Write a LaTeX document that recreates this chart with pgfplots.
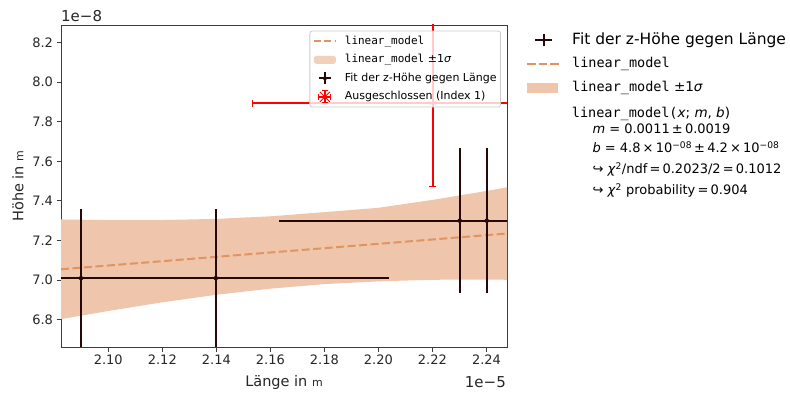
\documentclass[border=0pt]{standalone}
\usepackage{pgfplots}
\pgfplotsset{compat=1.18}
\usepackage{pgfplotstable}
\usepgfplotslibrary{fillbetween}
\usepackage{fontspec}
\setmainfont{DejaVu Sans}
\setmonofont{DejaVu Sans Mono}
\definecolor{bandc}{RGB}{239,198,172}
\definecolor{linec}{RGB}{225,147,98}
\definecolor{ptc}{RGB}{38,8,8}
\definecolor{spine}{RGB}{60,60,60}

\pgfplotstableread{
x y xe ye
2.0899 7.009 0.064 0.350
2.1398 7.009 0.064 0.350
2.2301 7.300 0.0668 0.366
2.2401 7.300 0.0668 0.366
}\pts
\pgfplotstableread{
x y xe ye
2.2201 7.893 0.0667 0.420
}\excl
\pgfplotstableread{
x upper lower
2.0825 7.306 6.802
2.10 7.303 6.843
2.12 7.303 6.887
2.14 7.309 6.925
2.16 7.322 6.956
2.18 7.343 6.979
2.20 7.365 6.993
2.22 7.405 7.001
2.24 7.450 7.002
2.2476 7.469 7.001
}\band
\pgfplotstableread{
x y
2.0825 7.054
2.2476 7.235
}\fitline

\begin{document}
\begin{tikzpicture}[x=1pt,y=1pt]
\begin{axis}[
  at={(61pt,47pt)}, anchor=south west, width=446pt, height=322pt, scale only axis,
  xmin=2.0825, xmax=2.2476, ymin=6.661, ymax=8.2896,
  xtick={2.10,2.12,2.14,2.16,2.18,2.20,2.22,2.24},
  ytick={6.8,7.0,7.2,7.4,7.6,7.8,8.0,8.2},
  xticklabel style={/pgf/number format/.cd, fixed, fixed zerofill, precision=2},
  yticklabel style={/pgf/number format/.cd, fixed, fixed zerofill, precision=1},
  /pgf/number format/assume math mode=true,
  scaled ticks=false,
  tick align=outside, xtick pos=bottom, ytick pos=left,
  major tick length=4.5pt,
  every tick/.style={spine, line width=0.9pt},
  axis line style={spine, line width=0.9pt},
  tick label style={font=\fontsize{13}{13}\selectfont, text=black!85},
  xlabel={Länge in {\fontsize{11}{11}\selectfont m}},
  ylabel={Höhe in {\fontsize{11}{11}\selectfont m}},
  label style={font=\fontsize{14.5}{14.5}\selectfont, text=black!85},
  xlabel style={at={(axis description cs:0.5,-0.1233)}, anchor=base},
  ylabel style={at={(axis description cs:-0.0964,0.5)}, anchor=center},
  legend cell align=left,
  legend style={at={(axis description cs:0.9865,0.9823)}, anchor=north east,
    draw=black!20, line width=0.8pt, fill=white, fill opacity=0.8, text opacity=1,
    rounded corners=2.5pt, inner xsep=4pt, inner ysep=5pt,
    font=\fontsize{11}{11}\selectfont, row sep=8pt,
    nodes={inner sep=0pt, anchor=west, text height=8pt, text depth=2.5pt}},
]
\addplot[draw=none, name path=U, forget plot] table[x=x,y=upper]{\band};
\addplot[draw=none, name path=L, forget plot] table[x=x,y=lower]{\band};
\addplot[bandc, forget plot] fill between[of=U and L];
\addplot[linec, line width=2pt, dash pattern=on 8pt off 3.5pt, forget plot] table[x=x,y=y]{\fitline};
\addplot[ptc, only marks, mark=*, mark size=2pt, forget plot,
  error bars/.cd, x dir=both, x explicit, y dir=both, y explicit, error mark=none,
  error bar style={line width=2pt, ptc}] table[x=x, y=y, x error=xe, y error=ye]{\pts};
\addplot[red, only marks, mark=asterisk, mark size=4pt, forget plot,
  error bars/.cd, x dir=both, x explicit, y dir=both, y explicit,
  error bar style={line width=2pt, red},
  error mark options={rotate=90, red, mark size=3.5pt, line width=1.2pt}]
  table[x=x, y=y, x error=xe, y error=ye]{\excl};

\addlegendimage{legend image code/.code={
  \path[draw=none, fill=none] (0pt,-4pt) rectangle (31pt,4pt);
  \begin{pgfinterruptboundingbox}
  \draw[linec, line width=2pt, dash pattern=on 7pt off 3.5pt] (0pt,0pt) -- (22pt,0pt);
  \end{pgfinterruptboundingbox}}}
\addlegendentry{\texttt{linear\_model}}
\addlegendimage{legend image code/.code={
  \path[draw=none, fill=none] (0pt,-4pt) rectangle (31pt,4pt);
  \begin{pgfinterruptboundingbox}
  \fill[bandc, draw=none] (0pt,-4pt) rectangle (22pt,4pt);
  \end{pgfinterruptboundingbox}}}
\addlegendentry{\texttt{linear\_model} ±1\textit{σ}}
\addlegendimage{legend image code/.code={
  \path[draw=none, fill=none] (0pt,-4pt) rectangle (31pt,4pt);
  \begin{pgfinterruptboundingbox}
  \draw[ptc, line width=2pt] (11pt,-6pt) -- (11pt,6pt);
  \draw[ptc, line width=2pt] (5pt,0pt) -- (17pt,0pt);
  \fill[ptc, draw=none] (11pt,0pt) circle (2pt);
  \end{pgfinterruptboundingbox}}}
\addlegendentry{Fit der z-Höhe gegen Länge}
\addlegendimage{legend image code/.code={
  \path[draw=none, fill=none] (0pt,-4pt) rectangle (31pt,4pt);
  \begin{pgfinterruptboundingbox}
  \draw[red, line width=1.5pt] (11pt,-6pt) -- (11pt,6pt) (5pt,0pt) -- (17pt,0pt);
  \draw[red, line width=1pt] (8pt,-6pt) -- (14pt,-6pt) (8pt,6pt) -- (14pt,6pt)
     (5pt,-3pt) -- (5pt,3pt) (17pt,-3pt) -- (17pt,3pt);
  \draw[red, line width=0.8pt] (6pt,-5pt) -- (16pt,5pt) (6pt,5pt) -- (16pt,-5pt);
  \end{pgfinterruptboundingbox}}}
\addlegendentry{Ausgeschlossen (Index 1)}
\end{axis}

\begin{axis}[
  at={(61pt,47pt)}, anchor=south west, width=446pt, height=322pt, scale only axis,
  hide axis, xmin=0, xmax=1, ymin=0, ymax=1,
  legend cell align=left,
  legend style={at={(axis description cs:1.04484,0.97516)}, anchor=north west,
    draw=none, fill=none, inner sep=0pt, row sep=9.7pt,
    nodes={inner sep=0pt, anchor=west, text height=11pt, text depth=3pt}},
]
\addplot[draw=none, forget plot] coordinates {(0,0) (1,1)};
\addlegendimage{legend image code/.code={
  \path[draw=none, fill=none] (0pt,-5pt) rectangle (45pt,5pt);
  \begin{pgfinterruptboundingbox}
  \draw[ptc, line width=2pt] (16.3pt,-5.7pt) -- (16.3pt,5.7pt);
  \draw[ptc, line width=2pt] (8pt,0pt) -- (24.6pt,0pt);
  \fill[ptc, draw=none] (16.3pt,0pt) circle (1.6pt);
  \end{pgfinterruptboundingbox}}}
\addlegendentry{\fontsize{15.5}{15.5}\selectfont Fit der z-Höhe gegen Länge}
\addlegendimage{legend image code/.code={
  \path[draw=none, fill=none] (0pt,-5pt) rectangle (45pt,5pt);
  \begin{pgfinterruptboundingbox}
  \draw[linec, line width=2pt, dash pattern=on 8.5pt off 3pt] (0pt,0pt) -- (31.5pt,0pt);
  \end{pgfinterruptboundingbox}}}
\addlegendentry{\fontsize{13.5}{13.5}\selectfont\texttt{linear\_model}}
\addlegendimage{legend image code/.code={
  \path[draw=none, fill=none] (0pt,-5pt) rectangle (45pt,5pt);
  \begin{pgfinterruptboundingbox}
  \fill[bandc, draw=none] (0pt,-5pt) rectangle (31pt,5pt);
  \end{pgfinterruptboundingbox}}}
\addlegendentry{\fontsize{13.5}{13.5}\selectfont\texttt{linear\_model} ±1\textit{σ}}
\end{axis}

\node[anchor=base west, inner sep=0pt, font=\fontsize{15}{15}\selectfont, text=black!85] at (61,372) {1e−8};
\node[anchor=base east, inner sep=0pt, font=\fontsize{15}{15}\selectfont, text=black!85] at (506,6.7) {1e−5};

\begin{scope}[every node/.style={anchor=base west, inner sep=0pt, font=\fontsize{13}{13}\selectfont}]
\node at (571.7,276.7) {\fontsize{13.5}{13.5}\selectfont\texttt{linear\_model(}\textit{x}; \textit{m}, \textit{b})};
\node at (592.3,260.7) {\textit{m} = 0.0011\,±\,0.0019};
\node at (592.3,241) {\textit{b} = 4.8\,×\,10\textsuperscript{−08}\,±\,4.2\,×\,10\textsuperscript{−08}};
\node at (592.3,220) {↪ \textit{χ}\textsuperscript{2}/ndf\,=\,0.2023/2\,=\,0.1012};
\node at (592.3,199) {↪ \textit{χ}\textsuperscript{2} probability\,=\,0.904};
\end{scope}
\pgfresetboundingbox
\path (0,0) rectangle (790,394);
\end{tikzpicture}
\end{document}
